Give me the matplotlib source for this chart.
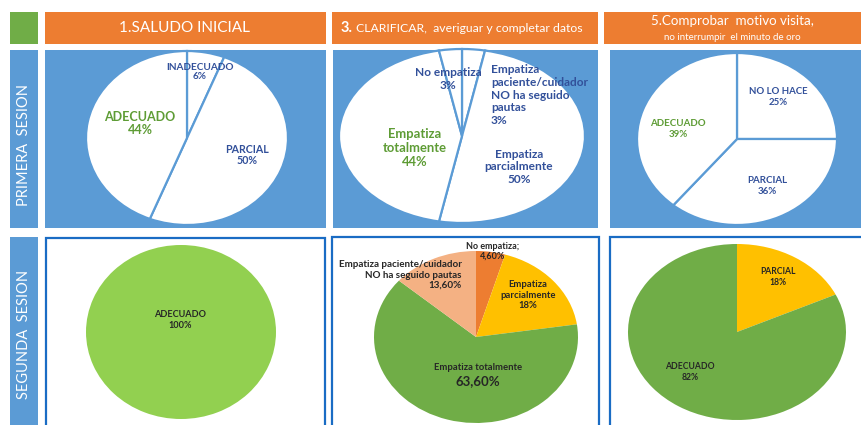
import matplotlib.pyplot as plt
from matplotlib.patches import Rectangle

plt.rcParams['font.family'] = ['Lato', 'DejaVu Sans']

W, H = 862, 425

# column headers and row labels
headers = ['1.SALUDO INICIAL', '3. CLARIFICAR,  averiguar y completar datos',
           '5.Comprobar  motivo visita,']
header3_sub = 'no interrumpir  el minuto de oro'
rows = ['PRIMERA  SESION', 'SEGUNDA  SESION']

# primera sesion
p1_labels = ['INADECUADO', 'PARCIAL', 'ADECUADO']
p1_values = [6, 50, 44]
p2_labels = ['Empatiza\npaciente/cuidador\nNO ha seguido\npautas', 'Empatiza\nparcialmente',
             'Empatiza\ntotalmente', 'No empatiza']
p2_values = [3, 50, 44, 3]
p3_labels = ['NO LO HACE', 'PARCIAL', 'ADECUADO']
p3_values = [25, 36, 39]

# segunda sesion
s1_labels = ['ADECUADO']
s1_values = [100]
s2_labels = ['No empatiza;', 'Empatiza\nparcialmente', 'Empatiza totalmente',
             'Empatiza paciente/cuidador\nNO ha seguido pautas']
s2_values = [4.6, 18, 63.6, 13.6]
s3_labels = ['PARCIAL', 'ADECUADO']
s3_values = [18, 82]

BLUE = '#5b9bd5'
ORANGE = '#ed7d31'
GREEN = '#70ad47'
EDGE = '#1a6cc4'
TXT_BLUE = '#32509a'
TXT_GREEN = '#5e9c35'
TXT_DARK = '#262626'


def pct(v):
    if float(v).is_integer():
        return f'{v:.0f}%'
    return f'{v:.2f}%'.replace('.', ',')


fig = plt.figure(figsize=(W / 100, H / 100), dpi=100)
bg = fig.add_axes([0, 0, 1, 1])
bg.set_xlim(0, W)
bg.set_ylim(H, 0)
bg.axis('off')


def box(x0, y0, x1, y1, fc, ec='none', lw=0):
    bg.add_patch(Rectangle((x0, y0), x1 - x0, y1 - y0, facecolor=fc,
                           edgecolor=ec, linewidth=lw))


# header row
box(10, 12, 38, 44, GREEN)
box(45, 12, 326, 44, ORANGE)
box(332, 12, 598, 44, ORANGE)
box(604, 12, 875, 44, ORANGE)

# row label bars
box(10, 50, 38, 228, BLUE)
box(10, 237, 38, 440, BLUE)

# panels
box(45, 50, 326, 228, BLUE)
box(333, 50, 598, 228, BLUE)
box(610, 50, 875, 228, BLUE)
box(46, 238, 325, 440, 'white', EDGE, 1.6)
box(332, 237, 599, 440, 'white', EDGE, 1.6)
box(610, 237, 875, 440, 'white', EDGE, 1.6)


def pie_ax(cx, cy, rx, ry, values, colors, ec, lw):
    ax = fig.add_axes([(cx - rx) / W, 1 - (cy + ry) / H, 2 * rx / W, 2 * ry / H])
    ax.pie(values, colors=colors, startangle=90, counterclock=False, radius=1,
           wedgeprops=dict(edgecolor=ec, linewidth=lw))
    ax.set_aspect('auto')
    ax.set_xlim(-1, 1)
    ax.set_ylim(-1, 1)
    ax.axis('off')
    return ax


pie_ax(187, 138, 101, 87, p1_values, ['white'] * 3, BLUE, 1.6)
pie_ax(462, 136, 123, 87, p2_values, ['white'] * 4, BLUE, 1.6)
pie_ax(737, 139, 100, 86, p3_values, ['white'] * 3, BLUE, 1.6)
pie_ax(181, 332, 95, 87, s1_values, ['#92d050'], 'none', 0)
pie_ax(476, 337, 102, 86, s2_values, [ORANGE, '#ffc000', GREEN, '#f4b183'], 'none', 0)
pie_ax(737, 332, 109, 88, s3_values, ['#ffc000', GREEN], 'none', 0)

# overlay for all text
top = fig.add_axes([0, 0, 1, 1])
top.set_xlim(0, W)
top.set_ylim(H, 0)
top.axis('off')
top.patch.set_alpha(0)


def t(x, y, s, size, color, weight='bold', ha='center', ls=1.1, **kw):
    top.text(x, y, s, fontsize=size, color=color, fontweight=weight, ha=ha,
             va='center', linespacing=ls, **kw)


# headers
t(185, 28, headers[0], 11, 'white', 'normal')
t(341, 28, headers[1][:2], 10.5, 'white', 'bold', ha='left')
t(356, 28, headers[1][3:], 8.8, 'white', 'normal', ha='left')
t(732, 21, headers[2], 9.6, 'white', 'normal')
t(732, 37, header3_sub, 7, 'white', 'normal')
t(24, 145, rows[0], 10.5, 'white', 'normal', rotation=90)
t(24, 334, rows[1], 10.5, 'white', 'normal', rotation=90)

# primera sesion labels
t(200, 72, f'{p1_labels[0]}\n{pct(p1_values[0])}', 7.2, TXT_BLUE)
t(247, 155, f'{p1_labels[1]}\n{pct(p1_values[1])}', 7.7, TXT_BLUE)
t(140, 123, f'{p1_labels[2]}\n{pct(p1_values[2])}', 9, TXT_GREEN)

t(491, 95, f'{p2_labels[0]}\n{pct(p2_values[0])}', 8.6, TXT_BLUE, ha='left', ls=1.2)
t(519, 167, f'{p2_labels[1]}\n{pct(p2_values[1])}', 8.6, TXT_BLUE, ls=1.2)
t(415, 148, f'{p2_labels[2]}\n{pct(p2_values[2])}', 9.4, TXT_GREEN, ls=1.2)
t(448, 79, f'{p2_labels[3]}\n{pct(p2_values[3])}', 8.6, TXT_BLUE, ls=1.2)

t(778, 97, f'{p3_labels[0]}\n{pct(p3_values[0])}', 6.9, TXT_BLUE, ls=1.2)
t(767, 186, f'{p3_labels[1]}\n{pct(p3_values[1])}', 7, TXT_BLUE, ls=1.2)
t(678, 129, f'{p3_labels[2]}\n{pct(p3_values[2])}', 7, TXT_GREEN, ls=1.2)

# segunda sesion labels
t(180, 320, f'{s1_labels[0]}\n{pct(s1_values[0])}', 6.6, TXT_DARK, ls=1.2)

t(493, 251, f'{s2_labels[0]}\n{pct(s2_values[0])}', 6.5, TXT_DARK)
t(528, 295, f'{s2_labels[1]}\n{pct(s2_values[1])}', 6.8, TXT_DARK, ls=1.2)
t(478, 367, s2_labels[2], 6.8, TXT_DARK)
t(478, 381, pct(s2_values[2]), 9.5, TXT_DARK)
t(462, 275, f'{s2_labels[3]}\n{pct(s2_values[3])}', 7.1, TXT_DARK, ha='right', ls=1.2)

t(778, 277, f'{s3_labels[0]}\n{pct(s3_values[0])}', 6.2, TXT_DARK, ls=1.2)
t(690, 372, f'{s3_labels[1]}\n{pct(s3_values[1])}', 6.2, TXT_DARK, ls=1.2)

fig.savefig('out.png', dpi=100)
